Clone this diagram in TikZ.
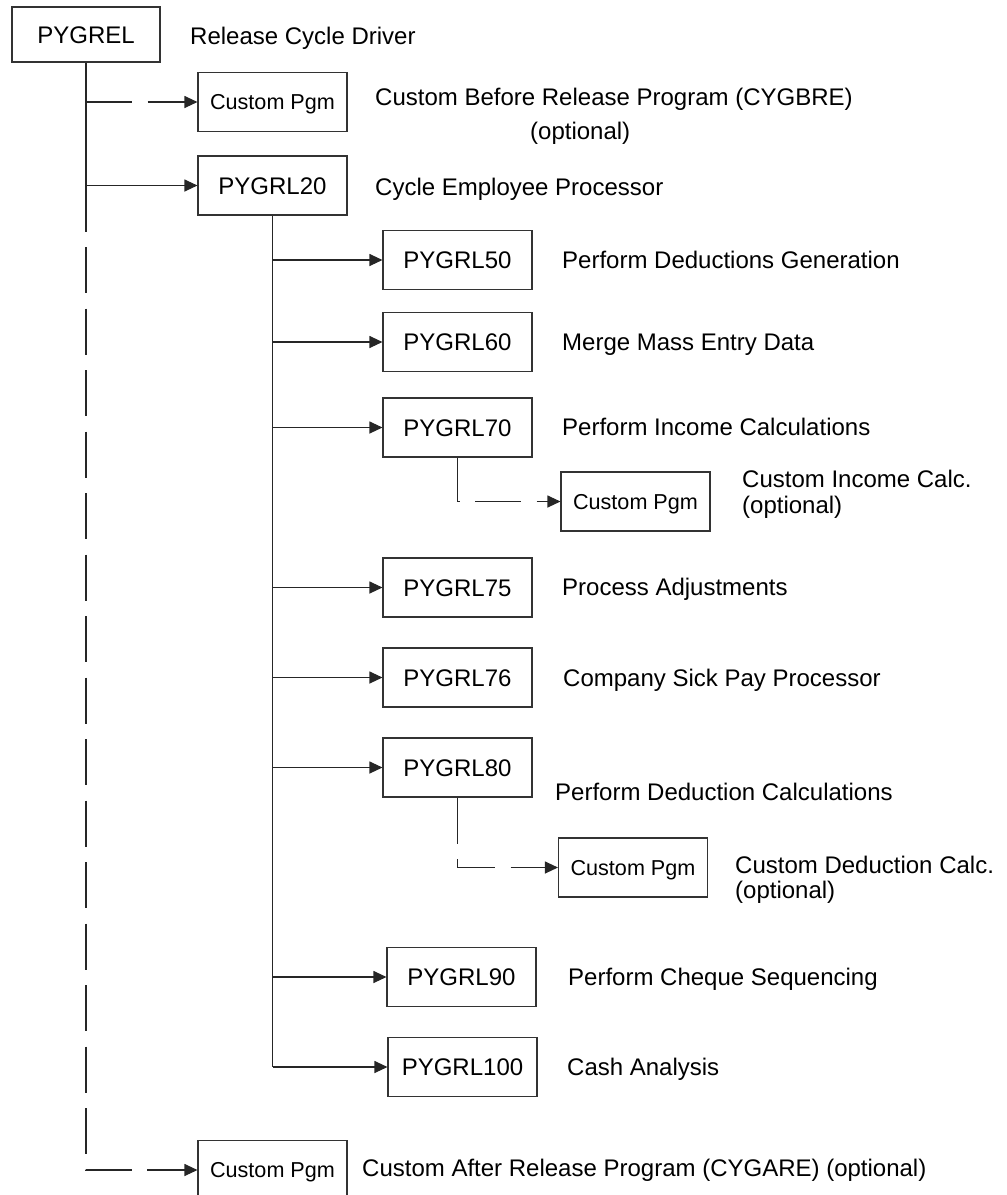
\documentclass[tikz,border=0pt]{standalone}
\usepackage{fontspec}
\setmainfont{Liberation Sans}
\usetikzlibrary{arrows.meta}
\begin{document}
\begin{tikzpicture}[x=1pt,y=-1pt,
  pgm/.style={draw=black!80, fill=white, line width=1.1pt, inner sep=0pt,
    minimum width=149pt, minimum height=59pt,
    font=\fontsize{24}{28}\selectfont, text height=17.2pt, text depth=0pt},
  cpgm/.style={pgm, font=\fontsize{21.6}{26}\selectfont, text height=15.5pt},
  lbl/.style={anchor=west, inner sep=0pt,
    font=\fontsize{24}{28}\selectfont, text height=17.2pt, text depth=0pt},
  link/.style={draw=black!85, line width=1.1pt},
  arr/.style={link, -{Triangle[length=13pt,width=12pt]}},
  optarr/.style={arr, dash pattern=on 46pt off 15.5pt},
]
\path[use as bounding box] (0,0) rectangle (1007,1195);
\clip (0,0) rectangle (1007,1195);

% release driver and its direct calls
\node[pgm, minimum width=148pt, minimum height=55pt] (pygrel) at (86,34.5) {PYGREL};
\node[lbl] (t-rel) at (190,36) {Release Cycle Driver};

\node[cpgm] (cbre) at (272.5,102) {Custom Pgm};
\node[lbl] (t-cbre) at (375,97) {Custom Before Release Program (CYGBRE)};
\node[lbl] (t-cbre2) at (530,131) {(optional)};

\node[pgm] (r20) at (272.5,185.5) {PYGRL20};
\node[lbl] (t-r20) at (375,187) {Cycle Employee Processor};

% employee processor steps
\node[pgm] (r50) at (457.5,260) {PYGRL50};
\node[lbl] (t-r50) at (562,260) {Perform Deductions Generation};

\node[pgm] (r60) at (457.5,342) {PYGRL60};
\node[lbl] (t-r60) at (562,342) {Merge Mass Entry Data};

\node[pgm] (r70) at (457.5,427.5) {PYGRL70};
\node[lbl] (t-r70) at (562,427) {Perform Income Calculations};

\node[cpgm] (cinc) at (635.5,501.5) {Custom Pgm};
\node[lbl] (t-cinc) at (742,479) {Custom Income Calc.};
\node[lbl] (t-cinc2) at (742,505) {(optional)};

\node[pgm] (r75) at (457.5,587.5) {PYGRL75};
\node[lbl] (t-r75) at (562,587) {Process Adjustments};

\node[pgm] (r76) at (457.5,677.5) {PYGRL76};
\node[lbl] (t-r76) at (563,678) {Company Sick Pay Processor};

\node[pgm] (r80) at (457.5,767.5) {PYGRL80};
\node[lbl] (t-r80) at (555,792) {Perform Deduction Calculations};

\node[cpgm] (cded) at (633,867.5) {Custom Pgm};
\node[lbl] (t-cded) at (735,865) {Custom Deduction Calc.};
\node[lbl] (t-cded2) at (735,890) {(optional)};

\node[pgm] (r90) at (461.5,977) {PYGRL90};
\node[lbl] (t-r90) at (568,977) {Perform Cheque Sequencing};

\node[pgm] (r100) at (462.5,1067) {PYGRL100};
\node[lbl] (t-r100) at (567,1067) {Cash Analysis};

\node[cpgm] (care) at (272.5,1170) {Custom Pgm};
\node[lbl] (t-care) at (362,1168) {Custom After Release Program (CYGARE) (optional)};

% connectors from the release driver
\coordinate (solidend) at (86,231);
\draw[link] (pygrel.south) -- (solidend);
\draw[optarr] (pygrel.south) |- (care.west);
\draw[optarr] (pygrel.south |- cbre.west) -- (cbre.west);
\draw[arr] (pygrel.south |- r20.west) -- (r20.west);

% connectors from the employee processor
\draw[link] (r20.south) -- (r20.south |- r100.west);
\foreach \n in {r50,r60,r70,r75,r76,r80,r90,r100}
  \draw[arr] (r20.south |- \n.west) -- (\n.west);

% optional user exits
\draw[optarr] (r70.south) |- (cinc.west);
\draw[optarr] (r80.south) |- (cded.west);
\end{tikzpicture}
\end{document}
